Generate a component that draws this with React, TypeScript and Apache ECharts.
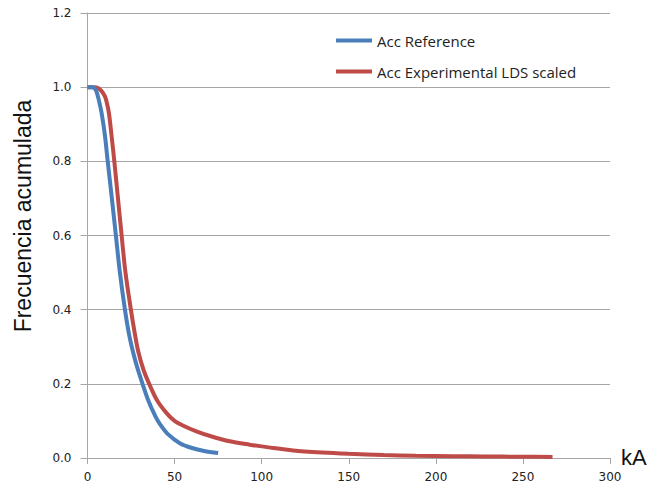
import React, { useEffect, useRef } from "react";
import * as echarts from "echarts";

const xTicks = [0, 50, 100, 150, 200, 250, 300];
const yTicks = [0, 0.2, 0.4, 0.6, 0.8, 1.0, 1.2];

const refX = [0, 3, 5, 6.5, 8.1, 10, 11.6, 14, 16.3, 18.6, 21.5, 24, 27, 29.5, 31.6, 34.5, 39, 41.5, 46, 53, 60, 67, 75];
const refY = [1, 1, 0.99, 0.965, 0.93, 0.87, 0.8, 0.7, 0.6, 0.5, 0.4, 0.33, 0.27, 0.23, 0.2, 0.16, 0.112, 0.092, 0.065, 0.04, 0.027, 0.019, 0.0135];

const expX = [0, 4, 6, 8, 10, 11, 12.3, 13.8, 15.4, 17.5, 19.6, 21.8, 24.9, 27, 29, 32, 35.4, 40, 45.4, 50, 55, 62.5, 70, 81.6, 93, 105, 118, 135, 150, 170, 188.5, 210, 227, 250, 267];
const expY = [1, 1, 0.998, 0.99, 0.975, 0.96, 0.93, 0.87, 0.8, 0.7, 0.6, 0.5, 0.4, 0.34, 0.29, 0.24, 0.2, 0.155, 0.121, 0.1, 0.087, 0.072, 0.06, 0.045, 0.036, 0.028, 0.0205, 0.015, 0.0116, 0.008, 0.006, 0.005, 0.004, 0.0035, 0.003];

const seriesNames = ["Acc Reference", "Acc Experimental LDS scaled"];
const colors = ["#4a7ebb", "#be4b48"];

export default function App() {
  const ref = useRef<HTMLDivElement>(null);
  useEffect(() => {
    if (!ref.current) return;
    const chart = echarts.init(ref.current, null, { renderer: "svg" });
    const gray = "#a6a6a6";
    chart.setOption({
      animation: false,
      backgroundColor: "#ffffff",
      grid: { left: 87.5, right: 42, top: 13, bottom: 34, containLabel: false },
      legend: {
        orient: "vertical",
        left: 336,
        top: 33,
        padding: 0,
        itemGap: 16,
        itemWidth: 36,
        itemHeight: 4,
        icon: "rect",
        data: seriesNames,
        textStyle: { fontFamily: "Open Sans", fontSize: 15, color: "#222" },
      },
      xAxis: {
        type: "value",
        min: 0,
        max: 300,
        interval: 50,
        axisLine: { show: true, lineStyle: { color: gray, width: 1 } },
        axisTick: { show: true, length: 6, lineStyle: { color: gray } },
        splitLine: { show: false },
        axisLabel: {
          margin: 13,
          fontFamily: "DejaVu Sans",
          fontSize: 12,
          color: "#222",
          formatter: (v: number) => (xTicks.includes(v) ? String(v) : ""),
        },
      },
      yAxis: {
        type: "value",
        min: 0,
        max: 1.2,
        interval: 0.2,
        axisLine: { show: true, lineStyle: { color: gray, width: 1 } },
        axisTick: { show: true, length: 7, lineStyle: { color: gray } },
        splitLine: { show: true, lineStyle: { color: gray, width: 1 } },
        axisLabel: {
          margin: 16,
          fontFamily: "DejaVu Sans",
          fontSize: 12,
          color: "#222",
          formatter: (v: number) => {
            const t = yTicks.find((y) => Math.abs(y - v) < 1e-6);
            return t === undefined ? "" : t.toFixed(1);
          },
        },
      },
      graphic: [
        {
          type: "text",
          x: 23,
          y: 216,
          rotation: Math.PI / 2,
          style: {
            text: "Frecuencia acumulada",
            fontFamily: "Liberation Sans",
            fontSize: 23,
            fill: "#111",
            textAlign: "center",
            textVerticalAlign: "middle",
          },
        },
        {
          type: "text",
          x: 621,
          y: 457,
          style: {
            text: "kA",
            fontFamily: "Liberation Sans",
            fontSize: 22,
            fill: "#111",
            textAlign: "left",
            textVerticalAlign: "middle",
          },
        },
      ],
      series: [
        {
          name: seriesNames[0],
          type: "line",
          showSymbol: false,
          smooth: 0.3,
          data: refX.map((x, i) => [x, refY[i]]),
          lineStyle: { color: colors[0], width: 4 },
          itemStyle: { color: colors[0] },
          z: 3,
        },
        {
          name: seriesNames[1],
          type: "line",
          showSymbol: false,
          smooth: 0.3,
          data: expX.map((x, i) => [x, expY[i]]),
          lineStyle: { color: colors[1], width: 4 },
          itemStyle: { color: colors[1] },
          z: 2,
        },
      ],
    });
    return () => chart.dispose();
  }, []);
  return (
    <div
      ref={ref}
      style={{ position: "fixed", left: 0, top: 0, width: 652, height: 492 }}
    />
  );
}
